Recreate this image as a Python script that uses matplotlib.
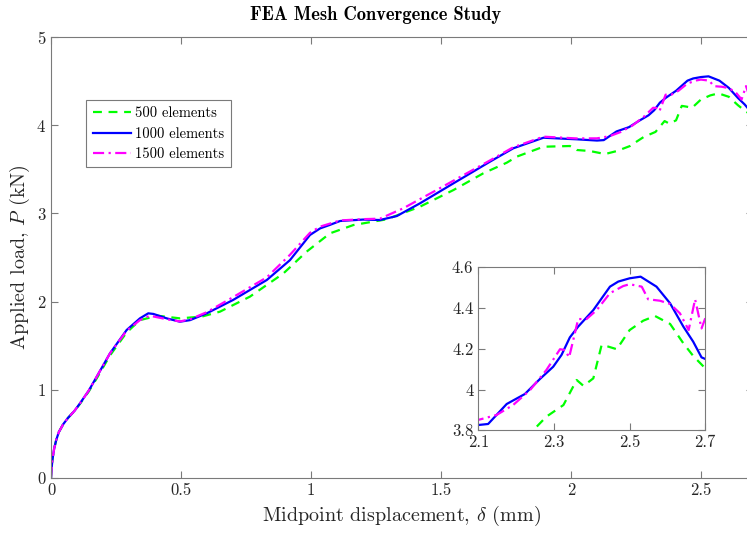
import matplotlib
matplotlib.use("Agg")
import matplotlib.pyplot as plt

plt.rcParams['font.family'] = 'serif'
plt.rcParams['font.serif'] = ['cmr10', 'DejaVu Serif']
plt.rcParams['mathtext.fontset'] = 'cm'
plt.rcParams['axes.formatter.use_mathtext'] = True

# 500 elements
x_500 = [0, 0.002, 0.006, 0.012, 0.02, 0.03, 0.047, 0.065, 0.09, 0.11, 0.145, 0.176, 0.227,
         0.291, 0.342, 0.41, 0.496, 0.58, 0.65, 0.765, 0.894, 0.983, 1.073, 1.163, 1.291,
         1.419, 1.548, 1.663, 1.753, 1.791, 1.894, 1.996, 2.022, 2.073, 2.131, 2.176, 2.227,
         2.245, 2.28, 2.325, 2.36, 2.378, 2.404, 2.426, 2.443, 2.466, 2.5, 2.536, 2.567,
         2.607, 2.642, 2.668, 2.7]
y_500 = [0, 0.1, 0.22, 0.33, 0.43, 0.52, 0.61, 0.68, 0.76, 0.835, 0.98, 1.13, 1.39,
         1.65, 1.79, 1.84, 1.81, 1.83, 1.886, 2.056, 2.32, 2.566, 2.774, 2.868, 2.933,
         3.076, 3.265, 3.455, 3.575, 3.643, 3.756, 3.764, 3.719, 3.707, 3.673, 3.707, 3.764,
         3.8, 3.867, 3.924, 4.047, 4.018, 4.055, 4.219, 4.211, 4.198, 4.292, 4.338, 4.361,
         4.322, 4.227, 4.165, 4.104]

# 1000 elements
x_1000 = [0, 0.002, 0.006, 0.012, 0.02, 0.03, 0.047, 0.065, 0.09, 0.11, 0.145, 0.176, 0.227,
          0.291, 0.342, 0.374, 0.394, 0.445, 0.496, 0.535, 0.599, 0.70, 0.83, 0.919, 0.996,
          1.035, 1.073, 1.112, 1.2, 1.265, 1.33, 1.419, 1.548, 1.688, 1.778, 1.894, 2.022,
          2.1, 2.126, 2.175, 2.223, 2.263, 2.298, 2.32, 2.342, 2.364, 2.404, 2.448, 2.47,
          2.5, 2.529, 2.571, 2.607, 2.642, 2.668, 2.69, 2.7]
y_1000 = [0, 0.1, 0.22, 0.33, 0.43, 0.52, 0.61, 0.68, 0.76, 0.84, 0.99, 1.149, 1.414,
          1.678, 1.81, 1.867, 1.86, 1.81, 1.772, 1.79, 1.867, 2.018, 2.245, 2.47, 2.755,
          2.83, 2.87, 2.914, 2.93, 2.925, 2.97, 3.114, 3.341, 3.586, 3.738, 3.858, 3.84,
          3.826, 3.831, 3.929, 3.978, 4.052, 4.112, 4.17, 4.256, 4.309, 4.39, 4.505, 4.53,
          4.546, 4.554, 4.505, 4.423, 4.309, 4.235, 4.158, 4.15]

# 1500 elements
x_1500 = [0, 0.002, 0.006, 0.012, 0.02, 0.03, 0.047, 0.065, 0.09, 0.11, 0.145, 0.176, 0.227,
          0.291, 0.342, 0.38, 0.445, 0.496, 0.535, 0.599, 0.70, 0.83, 0.919, 0.996, 1.035,
          1.112, 1.2, 1.265, 1.355, 1.483, 1.688, 1.778, 1.894, 2.022, 2.1, 2.148, 2.192,
          2.237, 2.28, 2.316, 2.329, 2.34, 2.351, 2.364, 2.386, 2.413, 2.448, 2.483, 2.5,
          2.532, 2.549, 2.58, 2.607, 2.633, 2.656, 2.673, 2.69, 2.7]
y_1500 = [0, 0.1, 0.22, 0.33, 0.43, 0.52, 0.61, 0.68, 0.76, 0.84, 0.99, 1.149, 1.414,
          1.67, 1.79, 1.84, 1.80, 1.775, 1.80, 1.88, 2.05, 2.275, 2.53, 2.78, 2.85,
          2.92, 2.935, 2.94, 3.058, 3.265, 3.6, 3.75, 3.87, 3.85, 3.851, 3.875, 3.924,
          3.998, 4.096, 4.198, 4.194, 4.158, 4.243, 4.346, 4.346, 4.39, 4.473, 4.508, 4.517,
          4.505, 4.443, 4.436, 4.42, 4.374, 4.292, 4.443, 4.30, 4.35]

labels = ['500 elements', '1000 elements', '1500 elements']
main_xticks = [0, 0.5, 1, 1.5, 2, 2.5]
main_yticks = [0, 1, 2, 3, 4, 5]
inset_xticks = [2.1, 2.3, 2.5, 2.7]
inset_yticks = [3.8, 4, 4.2, 4.4, 4.6]

spine_col = '#7a7a7a'
text_col = '#262626'


def style_axes(ax, size):
    for s in ax.spines.values():
        s.set_color(spine_col)
        s.set_linewidth(0.8)
    ax.tick_params(direction='in', length=5, width=0.8, color=spine_col,
                   labelcolor=text_col, labelsize=size,
                   top=True, right=True)


def draw_series(ax):
    ax.plot(x_500, y_500, color='#00ff00', ls=(0, (4, 3)), lw=1.6, label=labels[0])
    ax.plot(x_1000, y_1000, color='#0000ff', ls='-', lw=1.6, label=labels[1])
    ax.plot(x_1500, y_1500, color='#ff00ff', ls=(0, (5, 2, 1, 2)), lw=1.6, label=labels[2])


fig = plt.figure(figsize=(7.47, 5.35), dpi=100)
ax = fig.add_axes([51 / 747, 57 / 535, 702 / 747, 441 / 535])
draw_series(ax)
ax.set_xlim(0, 2.7)
ax.set_ylim(0, 5)
ax.set_xticks(main_xticks)
ax.set_xticklabels(['0', '0.5', '1', '1.5', '2', '2.5'])
ax.set_yticks(main_yticks)
style_axes(ax, 12)
ax.set_xlabel(r'Midpoint displacement, $\delta$ (mm)', fontsize=14.5, color=text_col, labelpad=4)
ax.set_ylabel(r'Applied load, $P$ (kN)', fontsize=14.5, color=text_col, labelpad=3)
leg = ax.legend(loc='upper left', bbox_to_anchor=(0.05, 0.857), borderaxespad=0,
                fontsize=10.5, fancybox=False, framealpha=1, edgecolor=spine_col,
                handlelength=2.6, handletextpad=0.3, borderpad=0.45, labelspacing=0.45)
leg.get_frame().set_linewidth(0.8)

fig.text(376 / 747, 1 - 15 / 535, 'FEA Mesh Convergence Study', ha='center', va='center',
         fontsize=13.3, family='cmb10', color='black')

axi = fig.add_axes([478.3 / 747, 104.7 / 535, 227 / 747, 163 / 535])
draw_series(axi)
axi.set_xlim(2.1, 2.7)
axi.set_ylim(3.8, 4.6)
axi.set_xticks(inset_xticks)
axi.set_xticklabels(['2.1', '2.3', '2.5', '2.7'])
axi.set_yticks(inset_yticks)
axi.set_yticklabels(['3.8', '4', '4.2', '4.4', '4.6'])
style_axes(axi, 12)

fig.savefig('out.png', dpi=100)
